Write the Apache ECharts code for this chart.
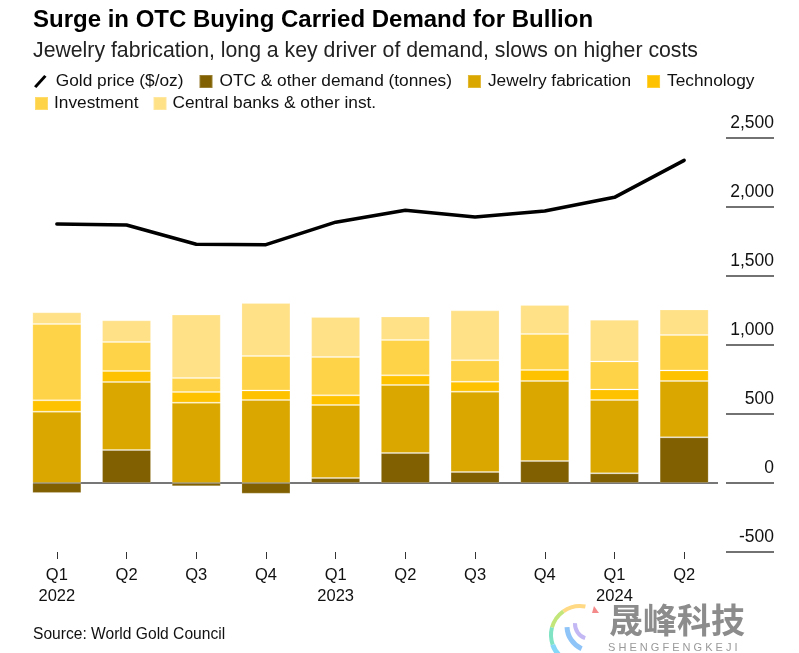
<!DOCTYPE html>
<html>
<head>
<meta charset="utf-8">
<style>
  html, body { margin: 0; padding: 0; background: #fff; }
  #chart { width: 799px; height: 653px; }
</style>
<script src="https://cdn.jsdelivr.net/npm/echarts@6/dist/echarts.min.js"></script>
</head>
<body>
<div id="chart"></div>
<script>
// 数据
var categories = ['Q1\n2022', 'Q2', 'Q3', 'Q4', 'Q1\n2023', 'Q2', 'Q3', 'Q4', 'Q1\n2024', 'Q2'];
var goldPrice = [1877, 1870, 1730, 1727, 1890, 1976, 1928, 1971, 2070, 2338];
var otcDemand = [-72, 239, -24, -77, 36, 217, 80, 159, 70, 331];
var jewelry = [517, 493, 582, 601, 529, 493, 582, 580, 531, 408];
var technology = [82, 80, 77, 70, 70, 70, 72, 80, 77, 77];
var investment = [553, 210, 101, 249, 278, 256, 155, 261, 203, 256];
var centralBanks = [85, 157, 461, 384, 290, 171, 362, 210, 302, 186];

var FONT = '"Liberation Sans", Arial, sans-serif';
var chart = echarts.init(document.getElementById('chart'));

function barSeries(name, data, color) {
  return {
    name: name,
    type: 'bar',
    stack: 'demand',
    barWidth: 49,
    data: data,
    itemStyle: { color: color, borderColor: 'rgba(255,255,255,0.2)', borderWidth: 1 }
  };
}

function legendText(padding) {
  return { fontFamily: FONT, fontSize: 17.3, color: '#111', padding: padding };
}

// 水印的彩色弧线
function logoArc(cx, cy, r, from, to, color, width) {
  return {
    type: 'arc',
    shape: { cx: cx, cy: cy, r: r, startAngle: from, endAngle: to },
    style: { fill: 'none', stroke: color, lineWidth: width }
  };
}

var option = {
  animation: false,
  backgroundColor: '#fff',
  title: [
    { text: 'Surge in OTC Buying Carried Demand for Bullion', left: 28, top: 3,
      textStyle: { fontFamily: FONT, fontSize: 24, fontWeight: 'bold', color: '#000' } },
    { text: 'Jewelry fabrication, long a key driver of demand, slows on higher costs', left: 28, top: 36,
      textStyle: { fontFamily: FONT, fontSize: 21.25, fontWeight: 'normal', color: '#222' } },
    { text: 'Source: World Gold Council', left: 28, top: 622,
      textStyle: { fontFamily: FONT, fontSize: 15.6, fontWeight: 'normal', color: '#111' } }
  ],
  legend: [
    { left: 29, top: 68, itemWidth: 13, itemHeight: 13, itemGap: 15, textStyle: legendText([0, 0, 0, 2]),
      data: [
        { name: 'Gold price ($/oz)', icon: 'path://M0 12 L11 0 L13.5 2 L2.5 14 Z', textStyle: legendText([0, 4, 0, 4]) },
        { name: 'OTC & other demand (tonnes)', icon: 'rect' },
        { name: 'Jewelry fabrication', icon: 'rect', textStyle: legendText([0, 5, 0, 2]) },
        { name: 'Technology', icon: 'rect' }
      ] },
    { left: 29, top: 90, itemWidth: 13, itemHeight: 13, itemGap: 14, textStyle: legendText([0, 0, 0, 1]),
      data: [
        { name: 'Investment', icon: 'rect' },
        { name: 'Central banks & other inst.', icon: 'rect' }
      ] }
  ],
  grid: { left: 22, right: 80, top: 138, bottom: 101 },
  xAxis: {
    type: 'category',
    data: categories,
    axisLine: { show: false, onZero: false },
    axisTick: { show: true, alignWithLabel: true, length: 7, lineStyle: { color: '#333', width: 1 } },
    axisLabel: { fontFamily: FONT, fontSize: 16.5, color: '#111', margin: 13, lineHeight: 21, interval: 0 }
  },
  yAxis: {
    type: 'value',
    position: 'right',
    offset: 7,
    min: -500,
    max: 2500,
    interval: 500,
    splitLine: { show: false },
    axisLine: { show: false },
    axisTick: { show: true, length: 48, lineStyle: { color: '#444', width: 1.5 } },
    axisLabel: {
      fontFamily: FONT, fontSize: 17.5, color: '#111',
      margin: 48, align: 'right', verticalAlign: 'bottom', padding: [0, 0, 6, 0],
      formatter: function (v) { return v.toLocaleString('en-US'); }
    }
  },
  series: [
    barSeries('OTC & other demand (tonnes)', otcDemand, '#806000'),
    barSeries('Jewelry fabrication', jewelry, '#DAA700'),
    barSeries('Technology', technology, '#FFC200'),
    barSeries('Investment', investment, '#FFD347'),
    barSeries('Central banks & other inst.', centralBanks, '#FFE188'),
    {
      name: 'Gold price ($/oz)',
      type: 'line',
      data: goldPrice,
      symbol: 'none',
      itemStyle: { color: '#000' },
      lineStyle: { color: '#000', width: 3.5, cap: 'round', join: 'round' }
    }
  ]
};

chart.setOption(option);

// 零线，画在柱子下面
var zeroY = chart.convertToPixel({ yAxisIndex: 0 }, 0);
chart.setOption({
  graphic: [
    { type: 'line', z: 0, shape: { x1: 33, y1: zeroY, x2: 718, y2: zeroY },
      style: { stroke: '#777', lineWidth: 2 } },
    // 水印
    { type: 'text', left: 609, top: 603,
      style: { text: '晟峰科技', font: 'bold 34px "Noto Sans CJK SC"', fill: '#8c8c8c' } },
    { type: 'text', left: 608, top: 642,
      style: { text: 'S H E N G F E N G K E J I', font: '11px "Liberation Sans"', fill: '#999' } },
    logoArc(580, 635, 29, 4.1, 4.9, '#ffd983', 4),
    logoArc(580, 635, 29, 3.4, 4.1, '#c3e67a', 4),
    logoArc(580, 635, 29, 2.8, 3.4, '#7fe3c4', 4),
    logoArc(580, 635, 29, 2.1, 2.8, '#86d8f8', 5),
    logoArc(592, 626, 25, 2.0, 3.1, '#8fc4f8', 5),
    logoArc(590, 624, 15, 1.9, 3.2, '#c4b8f4', 4),
    { type: 'polygon', shape: { points: [[594, 606], [599, 613], [592, 613]] },
      style: { fill: '#f58a8a' } }
  ]
});
</script>
</body>
</html>
